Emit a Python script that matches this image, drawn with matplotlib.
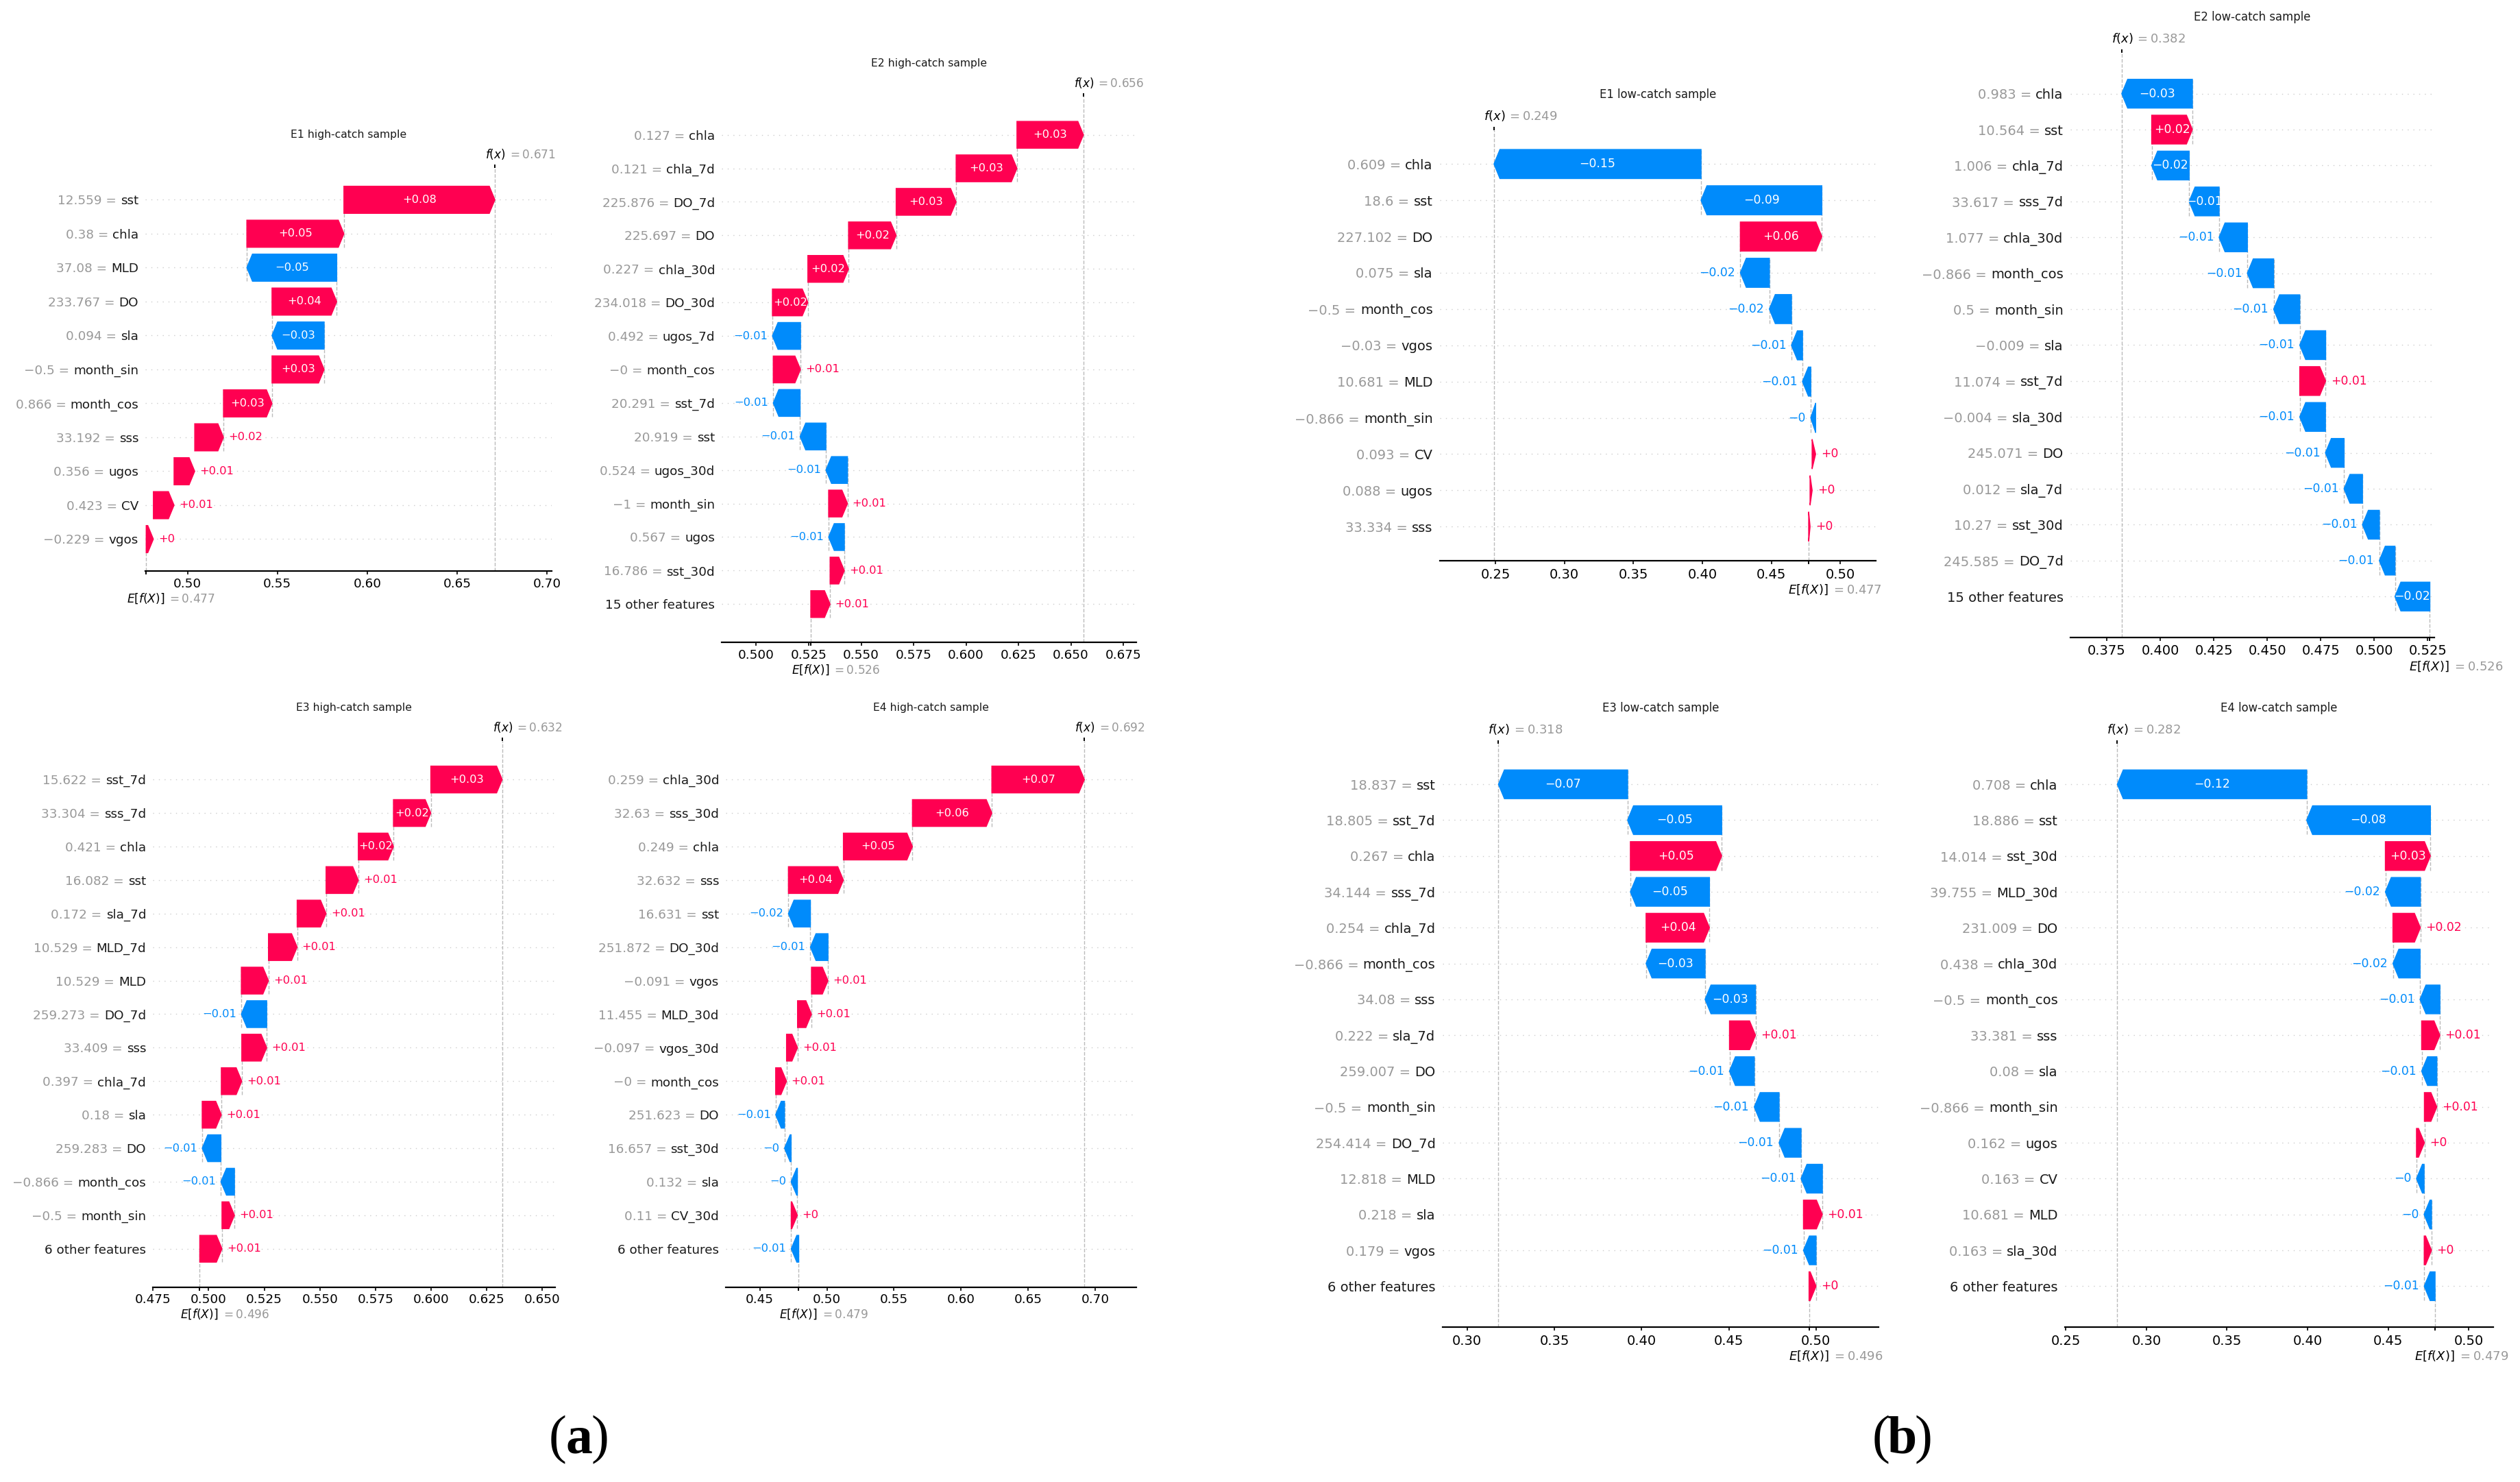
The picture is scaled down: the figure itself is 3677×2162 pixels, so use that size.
import re
import numpy as np
import matplotlib
matplotlib.use("Agg")
import matplotlib.pyplot as plt
import matplotlib.transforms as mtransforms
from matplotlib.ticker import MultipleLocator

plt.rcParams["font.family"] = ["DejaVu Sans"]
plt.rcParams["mathtext.fontset"] = "dejavusans"

# ===================== DATA =====================
E1H_TITLE = "E1 high-catch sample"
E1H_BASE = 0.477
E1H_FEATURES = ["sst", "chla", "MLD", "DO", "sla", "month_sin", "month_cos", "sss", "ugos", "CV", "vgos"]
E1H_FVALUES = [12.559, 0.38, 37.08, 233.767, 0.094, -0.5, 0.866, 33.192, 0.356, 0.423, -0.229]
E1H_SHAP = [0.084, 0.054, -0.050, 0.036, -0.029, 0.029, 0.027, 0.016, 0.0115, 0.0115, 0.004]
E1H_N_OTHER = 0
E1H_OTHER = 0.0

E2H_TITLE = "E2 high-catch sample"
E2H_BASE = 0.526
E2H_FEATURES = ["chla", "chla_7d", "DO_7d", "DO", "chla_30d", "DO_30d", "ugos_7d", "month_cos",
                "sst_7d", "sst", "ugos_30d", "month_sin", "ugos", "sst_30d"]
E2H_FVALUES = [0.127, 0.121, 225.876, 225.697, 0.227, 234.018, 0.492, -0.0, 20.291, 20.919,
               0.524, -1.0, 0.567, 16.786]
E2H_SHAP = [0.0317, 0.029, 0.0286, 0.0227, 0.0194, 0.0169, -0.0134, 0.013, -0.0128, -0.0123,
            -0.0103, 0.009, -0.0075, 0.0068]
E2H_N_OTHER = 15
E2H_OTHER = 0.0092

E1L_TITLE = "E1 low-catch sample"
E1L_BASE = 0.477
E1L_FEATURES = ["chla", "sst", "DO", "sla", "month_cos", "vgos", "MLD", "month_sin", "CV", "ugos", "sss"]
E1L_FVALUES = [0.609, 18.6, 227.102, 0.075, -0.5, -0.03, 10.681, -0.866, 0.093, 0.088, 33.334]
E1L_SHAP = [-0.150, -0.0875, 0.059, -0.021, -0.016, -0.008, -0.006, -0.0035, 0.0025, 0.0015, 0.001]
E1L_N_OTHER = 0
E1L_OTHER = 0.0

E2L_TITLE = "E2 low-catch sample"
E2L_BASE = 0.526
E2L_FEATURES = ["chla", "sst", "chla_7d", "sss_7d", "chla_30d", "month_cos", "month_sin", "sla",
                "sst_7d", "sla_30d", "DO", "sla_7d", "sst_30d", "DO_7d"]
E2L_FVALUES = [0.983, 10.564, 1.006, 33.617, 1.077, -0.866, 0.5, -0.009, 11.074, -0.004,
               245.071, 0.012, 10.27, 245.585]
E2L_SHAP = [-0.033, 0.019, -0.0175, -0.014, -0.0132, -0.0123, -0.0122, -0.0121, 0.0121, -0.012,
            -0.0087, -0.0086, -0.0079, -0.0073]
E2L_N_OTHER = 15
E2L_OTHER = -0.0163

E3H_TITLE = "E3 high-catch sample"
E3H_BASE = 0.496
E3H_FEATURES = ["sst_7d", "sss_7d", "chla", "sst", "sla_7d", "MLD_7d", "MLD", "DO_7d", "sss",
                "chla_7d", "sla", "DO", "month_cos", "month_sin"]
E3H_FVALUES = [15.622, 33.304, 0.421, 16.082, 0.172, 10.529, 10.529, 259.273, 33.409, 0.397,
               0.18, 259.283, -0.866, -0.5]
E3H_SHAP = [0.0321, 0.0168, 0.0158, 0.0145, 0.013, 0.0129, 0.0122, -0.0114, 0.0112, 0.0092,
            0.0086, -0.0084, -0.0061, 0.0056]
E3H_N_OTHER = 6
E3H_OTHER = 0.0100

E4H_TITLE = "E4 high-catch sample"
E4H_BASE = 0.479
E4H_FEATURES = ["chla_30d", "sss_30d", "chla", "sss", "sst", "DO_30d", "vgos", "MLD_30d",
                "vgos_30d", "month_cos", "DO", "sst_30d", "sla", "CV_30d"]
E4H_FVALUES = [0.259, 32.63, 0.249, 32.632, 16.631, 251.872, -0.091, 11.455, -0.097, -0.0,
               251.623, 16.657, 0.132, 0.11]
E4H_SHAP = [0.069, 0.0592, 0.0515, 0.041, -0.0164, -0.0131, 0.0123, 0.0104, 0.0082, 0.0081,
            -0.0066, -0.0049, -0.0047, 0.0046]
E4H_N_OTHER = 6
E4H_OTHER = -0.0056

E3L_TITLE = "E3 low-catch sample"
E3L_BASE = 0.496
E3L_FEATURES = ["sst", "sst_7d", "chla", "sss_7d", "chla_7d", "month_cos", "sss", "sla_7d", "DO",
                "month_sin", "DO_7d", "MLD", "sla", "vgos"]
E3L_FVALUES = [18.837, 18.805, 0.267, 34.144, 0.254, -0.866, 34.08, 0.222, 259.007, -0.5,
               254.414, 12.818, 0.218, 0.179]
E3L_SHAP = [-0.074, -0.0539, 0.0523, -0.0453, 0.0363, -0.0338, -0.0289, 0.0149, -0.0142, -0.0142,
            -0.0126, -0.0122, 0.0108, -0.0072]
E3L_N_OTHER = 6
E3L_OTHER = 0.004

E4L_TITLE = "E4 low-catch sample"
E4L_BASE = 0.479
E4L_FEATURES = ["chla", "sst", "sst_30d", "MLD_30d", "DO", "chla_30d", "month_cos", "sss", "sla",
                "month_sin", "ugos", "CV", "MLD", "sla_30d"]
E4L_FVALUES = [0.708, 18.886, 14.014, 39.755, 231.009, 0.438, -0.5, 33.381, 0.08, -0.866,
               0.162, 0.163, 10.681, 0.163]
E4L_SHAP = [-0.1174, -0.0767, 0.0279, -0.0217, 0.017, -0.0168, -0.0123, 0.0113, -0.0094, 0.0077,
            0.0049, -0.0047, -0.0046, 0.0045]
E4L_N_OTHER = 6
E4L_OTHER = -0.0067

GROUP_LABELS = ["a", "b"]

PANELS = [
    (E1H_TITLE, E1H_BASE, E1H_FEATURES, E1H_FVALUES, E1H_SHAP, E1H_N_OTHER, E1H_OTHER),
    (E2H_TITLE, E2H_BASE, E2H_FEATURES, E2H_FVALUES, E2H_SHAP, E2H_N_OTHER, E2H_OTHER),
    (E1L_TITLE, E1L_BASE, E1L_FEATURES, E1L_FVALUES, E1L_SHAP, E1L_N_OTHER, E1L_OTHER),
    (E2L_TITLE, E2L_BASE, E2L_FEATURES, E2L_FVALUES, E2L_SHAP, E2L_N_OTHER, E2L_OTHER),
    (E3H_TITLE, E3H_BASE, E3H_FEATURES, E3H_FVALUES, E3H_SHAP, E3H_N_OTHER, E3H_OTHER),
    (E4H_TITLE, E4H_BASE, E4H_FEATURES, E4H_FVALUES, E4H_SHAP, E4H_N_OTHER, E4H_OTHER),
    (E3L_TITLE, E3L_BASE, E3L_FEATURES, E3L_FVALUES, E3L_SHAP, E3L_N_OTHER, E3L_OTHER),
    (E4L_TITLE, E4L_BASE, E4L_FEATURES, E4L_FVALUES, E4L_SHAP, E4L_N_OTHER, E4L_OTHER),
]

# ===================== LAYOUT (pixels of the 3677x2162 canvas) =====================
# x_left, x_right, axis_y, row_px, xmin, xmax, tick_step, font_scale, label_fit
LAYOUT = [
    (212, 805, 833, 49.5, 0.4765, 0.7026, 0.05, 0.51, 1.0),
    (1053, 1658, 937, 48.9, 0.4835, 0.6812, 0.025, 0.51, 1.0),
    (2101, 2737, 818, 52.9, 0.2098, 0.5256, 0.05, 0.54, 1.0),
    (3021, 3552, 930, 52.4, 0.358, 0.5281, 0.025, 0.54, 1.245),
    (223, 810, 1877.5, 48.9, 0.4749, 0.6558, 0.025, 0.51, 1.0),
    (1059, 1658, 1877.5, 48.9, 0.4246, 0.7307, 0.05, 0.51, 1.0),
    (2105, 2741, 1936, 52.3, 0.286, 0.5358, 0.05, 0.54, 1.0),
    (3013, 3638, 1936, 52.3, 0.2495, 0.5151, 0.05, 0.54, 1.0),
]
GROUP_POS = [(845, 2119), (2776, 2119)]

W, H = 3677, 2162
DPI = 200
RED = (1.0, 0.0, 0.31796406)
BLUE = (0.0, 0.54337757, 0.98337906)

fig = plt.figure(figsize=(W / DPI, H / DPI), dpi=DPI)
fig.patch.set_facecolor("white")
renderer = fig.canvas.get_renderer()


def fmt_value(v, f):
    s = f % v
    s = re.sub(r"\.?0+$", "", s)
    if s[0] == "-":
        s = "\u2212" + s[1:]
    return s


def draw_waterfall(panel, layout):
    title, base, feats, fvals, svals, n_other, other = panel
    xL, xR, axis_y, row_px, xmin, xmax, step, K, fit = layout
    n_ind = len(feats)
    nf = n_ind + (1 if n_other else 0)
    pad_rows = 0.4 + 0.05 * (nf - 0.2)
    ylo, yhi = -pad_rows, nf - 1 + pad_rows
    h_px = (yhi - ylo) * row_px
    ax = fig.add_axes([xL / W, 1 - axis_y / H, (xR - xL) / W, h_px / H])
    ax.set_xlim(xmin, xmax)
    ax.set_ylim(ylo, yhi)

    fx = base + float(np.sum(svals)) + other
    rng = list(range(nf - 1, -1, -1))
    loc = fx
    pos, neg = [], []
    names = [""] * nf
    values_txt = [None] * nf
    for i in range(n_ind):
        sval = svals[i]
        loc -= sval
        if sval >= 0:
            pos.append((rng[i], sval, loc))
        else:
            neg.append((rng[i], sval, loc))
        if n_ind != nf or i + 4 < n_ind:
            ax.plot([loc, loc], [rng[i] - 1 - 0.4, rng[i] + 0.4], color="#bbbbbb",
                    linestyle="--", linewidth=0.5, zorder=-1)
        names[rng[i]] = feats[i]
        values_txt[rng[i]] = fmt_value(float(fvals[i]), "%0.03f") + " ="
    if n_other:
        names[0] = "%d other features" % n_other
        remaining = base - loc
        if remaining < 0:
            pos.append((0, -remaining, loc + remaining))
        else:
            neg.append((0, -remaining, loc + remaining))

    bbox = ax.get_window_extent().transformed(fig.dpi_scale_trans.inverted())
    xscale = (xmax - xmin) / bbox.width
    hl = xscale * 0.08 * K
    lab_fs = 11.5 * K

    for ind, dist, left in pos:
        arr = ax.arrow(left, ind, max(dist - hl, 1e-6), 0, head_length=min(dist, hl),
                       color=RED, width=0.8, head_width=0.8, linewidth=K)
        s = fmt_value(dist, "%+0.02f")
        t = ax.text(left + 0.5 * dist, ind, s, ha="center", va="center", color="white", fontsize=lab_fs)
        if t.get_window_extent(renderer).width > fit * arr.get_window_extent(renderer).width:
            t.remove()
            ax.text(left + (5 / 72) * K * xscale + dist, ind, s, ha="left", va="center",
                    color=RED, fontsize=lab_fs)
    for ind, dist, left in neg:
        arr = ax.arrow(left, ind, -max(-dist - hl, 1e-6), 0, head_length=min(-dist, hl),
                       color=BLUE, width=0.8, head_width=0.8, linewidth=K)
        s = fmt_value(dist, "%+0.02f")
        t = ax.text(left + 0.5 * dist, ind, s, ha="center", va="center", color="white", fontsize=lab_fs)
        if t.get_window_extent(renderer).width > fit * arr.get_window_extent(renderer).width:
            t.remove()
            ax.text(left - (5 / 72) * K * xscale + dist, ind, s, ha="right", va="center",
                    color=BLUE, fontsize=lab_fs)

    # y labels: black feature name as tick label, grey "value =" just to its left
    ytfs = 13 * K
    ax.set_yticks(list(range(nf)))
    ax.set_yticklabels(names, fontsize=ytfs, color="#1a1a1a")
    ax.tick_params(axis="y", length=3.5 * K, pad=3.5 * K)
    for r, tl in enumerate(ax.yaxis.get_majorticklabels()):
        if values_txt[r] is not None:
            ax.annotate(values_txt[r], xy=(0, 0.5), xycoords=tl, xytext=(-0.318 * ytfs, 0),
                        textcoords="offset points", ha="right", va="center",
                        color="#999999", fontsize=ytfs, annotation_clip=False)

    for i in range(nf):
        ax.axhline(i, color="#cccccc", lw=0.5, dashes=(1, 5), zorder=-1)
    ax.axvline(base, 0, 1 / nf, color="#bbbbbb", linestyle="--", linewidth=0.5, zorder=-1)
    ax.axvline(fx, 0, 1, color="#bbbbbb", linestyle="--", linewidth=0.5, zorder=-1)

    ax.xaxis.set_ticks_position("bottom")
    ax.yaxis.set_ticks_position("none")
    for sp in ["right", "top", "left"]:
        ax.spines[sp].set_visible(False)
    ax.spines["bottom"].set_linewidth(0.8)
    ax.xaxis.set_major_locator(MultipleLocator(step))
    ax.tick_params(axis="x", labelsize=13 * K, length=3.5 * K, width=0.6, pad=3.5 * K)

    # E[f(X)] tick (bottom, one line below the regular tick labels)
    ax2 = ax.twiny()
    ax2.set_xlim(xmin, xmax)
    ax2.xaxis.set_ticks_position("bottom")
    ax2.set_xticks([base, base + 1e-8])
    ax2.set_xticklabels(["$E[f(X)]$", "$ = " + fmt_value(base, "%0.03f") + "$"],
                        fontsize=12 * K, ha="left")
    ax2.tick_params(axis="x", length=3.5 * K, width=0.6, pad=18 * K)
    for sp in ax2.spines.values():
        sp.set_visible(False)

    # f(x) tick (top)
    ax3 = ax2.twiny()
    ax3.set_xlim(xmin, xmax)
    ax3.set_xticks([fx, fx + 1e-8])
    ax3.set_xticklabels(["$f(x)$", "$ = " + fmt_value(fx, "%0.03f") + "$"], fontsize=12 * K, ha="left")
    ax3.tick_params(axis="x", length=3.5 * K, width=0.6, pad=3.5 * K)
    for sp in ax3.spines.values():
        sp.set_visible(False)
    tls = ax3.xaxis.get_majorticklabels()
    tls[0].set_transform(tls[0].get_transform() +
                         mtransforms.ScaledTranslation(-10 * K / 72., 0, fig.dpi_scale_trans))
    tls[1].set_transform(tls[1].get_transform() +
                         mtransforms.ScaledTranslation(13 * K / 72., 0, fig.dpi_scale_trans))
    tls[1].set_color("#999999")

    tls = ax2.xaxis.get_majorticklabels()
    tls[0].set_transform(tls[0].get_transform() +
                         mtransforms.ScaledTranslation(-20 * K / 72., 0, fig.dpi_scale_trans))
    tls[1].set_transform(tls[1].get_transform() +
                         mtransforms.ScaledTranslation(22 * K / 72., -1 * K / 72., fig.dpi_scale_trans))
    tls[1].set_color("#999999")

    ax.annotate(title, xy=(0.5, 1.0), xycoords="axes fraction", xytext=(0, 34.5 * K),
                textcoords="offset points", ha="center", va="center", fontsize=11 * K,
                color="#1a1a1a")


for p, l in zip(PANELS, LAYOUT):
    draw_waterfall(p, l)

for letter, (cx, by) in zip(GROUP_LABELS, GROUP_POS):
    y = 1 - by / H
    fig.text(cx / W, y, letter, ha="center", va="baseline", fontsize=28, fontweight="bold",
             family="Liberation Serif")
    fig.text((cx - 19) / W, y, "(", ha="right", va="baseline", fontsize=28, family="Liberation Serif")
    fig.text((cx + 17) / W, y, ")", ha="left", va="baseline", fontsize=28, family="Liberation Serif")

fig.savefig("out.png", dpi=DPI)
